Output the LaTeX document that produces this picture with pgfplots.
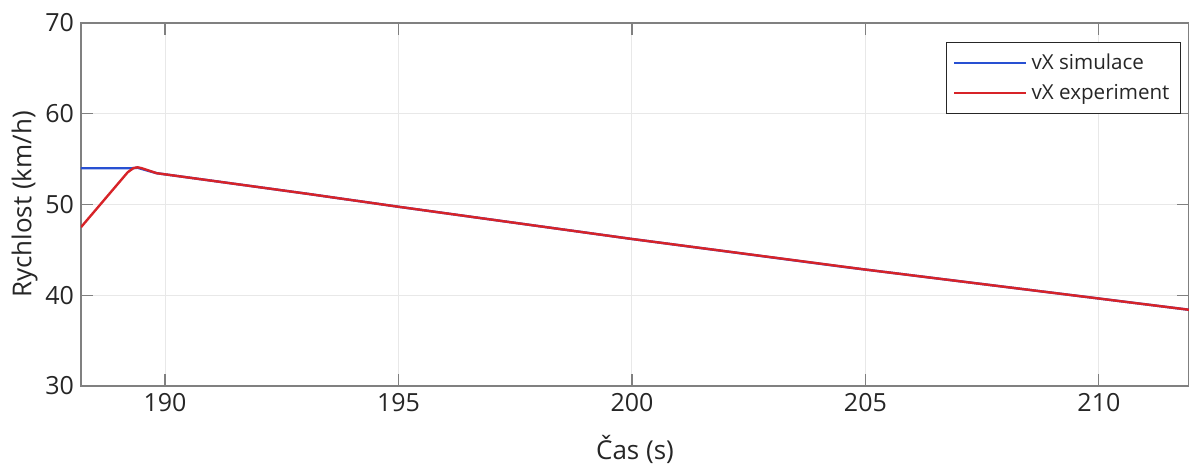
\documentclass[border=0pt]{standalone}
\usepackage{pgfplots}
\pgfplotsset{compat=1.18}
\usepackage{fontspec}
\setmainfont{Open Sans}
\definecolor{simblue}{RGB}{40,80,210}
\definecolor{expred}{RGB}{215,35,40}
\definecolor{axgray}{RGB}{128,128,128}
\definecolor{txtgray}{RGB}{38,38,38}
\begin{document}
\begin{tikzpicture}
\begin{axis}[
  name=ax,
  scale only axis,
  width=554pt, height=181.5pt,
  xmin=188.2, xmax=211.93, ymin=30, ymax=70,
  xtick={190,195,...,210}, ytick={30,40,...,70},
  grid=major,
  major grid style={color=black!9, line width=0.5pt},
  axis line style={axgray, line width=0.6pt},
  tick style={axgray, line width=0.6pt},
  major tick length=6pt,
  tick align=inside,
  xtick pos=both, ytick pos=both,
  tick label style={font=\fontsize{12.5}{14}\selectfont, text=txtgray},
  /pgf/number format/assume math mode=true,
  /pgf/number format/1000 sep={},
  xlabel={Čas (s)}, ylabel={Rychlost (km/h)},
  label style={font=\fontsize{13}{15}\selectfont, text=txtgray},
  xlabel style={yshift=-5pt},
  ylabel style={yshift=-3pt},
  legend style={at={(1,1)}, anchor=north east, xshift=-4pt, yshift=-9.5pt,
    draw=txtgray, line width=0.5pt, font=\fontsize{10.3}{12.5}\selectfont, text=txtgray,
    row sep=2pt, inner sep=3.5pt},
  legend cell align=left,
  legend image code/.code={\draw[#1] (0pt,0pt) -- (36pt,0pt);},
]
\addplot[simblue, line width=1.2pt] coordinates {
(188.2,54.0) (189.3,54.0) (189.41,54.05) (189.82,53.45) (191.8,52.06) (193.09,51.15)
(195,49.75) (200,46.2) (204.5,43.15) (205,42.83) (210,39.64) (211.93,38.4)};
\addlegendentry{vX simulace}
\addplot[expred, line width=1.2pt] coordinates {
(188.2,47.5) (189.2,53.55) (189.32,54.0) (189.41,54.1) (189.5,54.0) (189.82,53.45) (191.8,52.06) (193.09,51.15)
(195,49.75) (200,46.2) (205,42.83) (210,39.64) (211.93,38.4)};
\addlegendentry{vX experiment}
\end{axis}
\pgfresetboundingbox
\path ([xshift=-40.5pt,yshift=-39pt]ax.south west) rectangle ([yshift=11.5pt]ax.north east);
\end{tikzpicture}
\end{document}
